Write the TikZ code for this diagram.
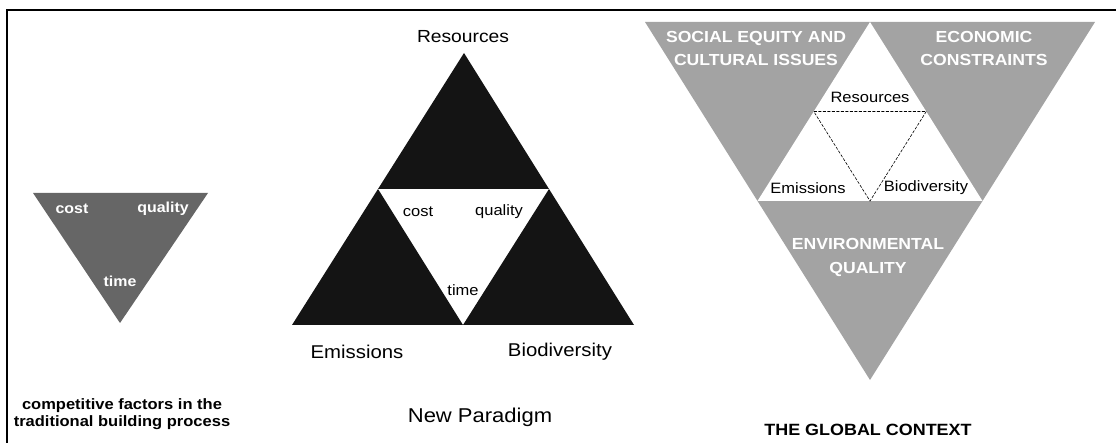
\documentclass[tikz,border=0pt]{standalone}
\usepackage{fontspec}
\setmainfont{Liberation Sans}[FakeStretch=1.1]
\definecolor{inkblack}{gray}{0.08}
\definecolor{darkshade}{gray}{0.40}
\definecolor{lightshade}{gray}{0.64}
\tikzset{
    every node/.style={inner sep=0pt, align=center}
}
\tikzset{
    normaltxt/.style={font=\fontsize{#1}{#1}\selectfont},
    boldtxt/.style={font=\bfseries\fontsize{#1}{#1}\selectfont},
    whitetxt/.style={boldtxt=#1, text=white}
}
\tikzset{
    split/.style={line width=0.6pt, dash pattern=on 3pt off 1.5pt}
}

\begin{document}
\begin{tikzpicture}[x=1pt, y=-1pt]
	\useasboundingbox (0,0) rectangle (1116,443);
	\draw[line width=2pt] (7,443) -- (7,10) -- (1116,10);

	% old triangle
	\coordinate (s1) at (33,193);
	\coordinate (s2) at (208,193);
	\coordinate (s3) at (120,323);
	\fill[darkshade] (s1) -- (s2) -- (s3) -- cycle;
	\node (cost) [whitetxt=14.5] at ( 72,209) {cost};
	\node (qual) [whitetxt=14.5] at (163,209) {quality};
	\node (time) [whitetxt=14.5] at (120,281) {time};
	\node (cap1) [boldtxt=15] at (122,414) {competitive factors in the\\[2.5pt]traditional building process};

	% new paradigm
	\coordinate (t) at (464,53);
	\coordinate (l) at (292,325);
	\coordinate (r) at (634,325);
	\coordinate (tl) at (378,189);
	\coordinate (tr) at (549,189);
	\coordinate (b) at (463,325);
	\fill[inkblack] (t) -- (tl) -- (tr) -- cycle;
	\fill[inkblack] (tl) -- (l) -- (b) -- cycle;
	\fill[inkblack] (tr) -- (b) -- (r) -- cycle;
	\node (res) [normaltxt=17.5] at (463, 37) {Resources};
	\node (emi) [normaltxt=18.5] at (357,352) {Emissions};
	\node (bio) [normaltxt=18.5] at (560,352) {Biodiversity};
	\node (ncost) [normaltxt=15] at (418,212) {cost};
	\node (nqual) [normaltxt=15] at (499,212) {quality};
	\node (ntime) [normaltxt=15] at (463,290) {time};
	\node (cap2) [normaltxt=20] at (480,417) {New Paradigm};

	% global context
	\coordinate (g1) at (645,22);
	\coordinate (g2) at (1095,22);
	\coordinate (g3) at (870,380);
	\coordinate (w1) at (870,22);
	\coordinate (w2) at (757.5,201);
	\coordinate (w3) at (982.5,201);
	\coordinate (d1) at (813.75,111.5);
	\coordinate (d2) at (926.25,111.5);
	\coordinate (d3) at (870,201);
	\fill[lightshade] (g1) -- (g2) -- (g3) -- cycle;
	\fill[white] (w1) -- (w2) -- (w3) -- cycle;
	\draw[split] (d1) -- (d2) -- (d3) -- cycle;
	\node (gres) [normaltxt=15] at (870, 97) {Resources};
	\node (gemi) [normaltxt=15] at (808,188) {Emissions};
	\node (gbio) [normaltxt=15] at (926,188) {Biodiversity};
	\node (soc) [whitetxt=16] at (756,48) {SOCIAL EQUITY AND\\[7pt]CULTURAL ISSUES};
	\node (eco) [whitetxt=16] at (984,48) {ECONOMIC\\[7pt]CONSTRAINTS};
	\node (env) [whitetxt=16] at (868,257) {ENVIRONMENTAL\\[8pt]QUALITY};
	\node (cap3) [boldtxt=16.3] at (868,430) {THE GLOBAL CONTEXT};
\end{tikzpicture}
\end{document}
